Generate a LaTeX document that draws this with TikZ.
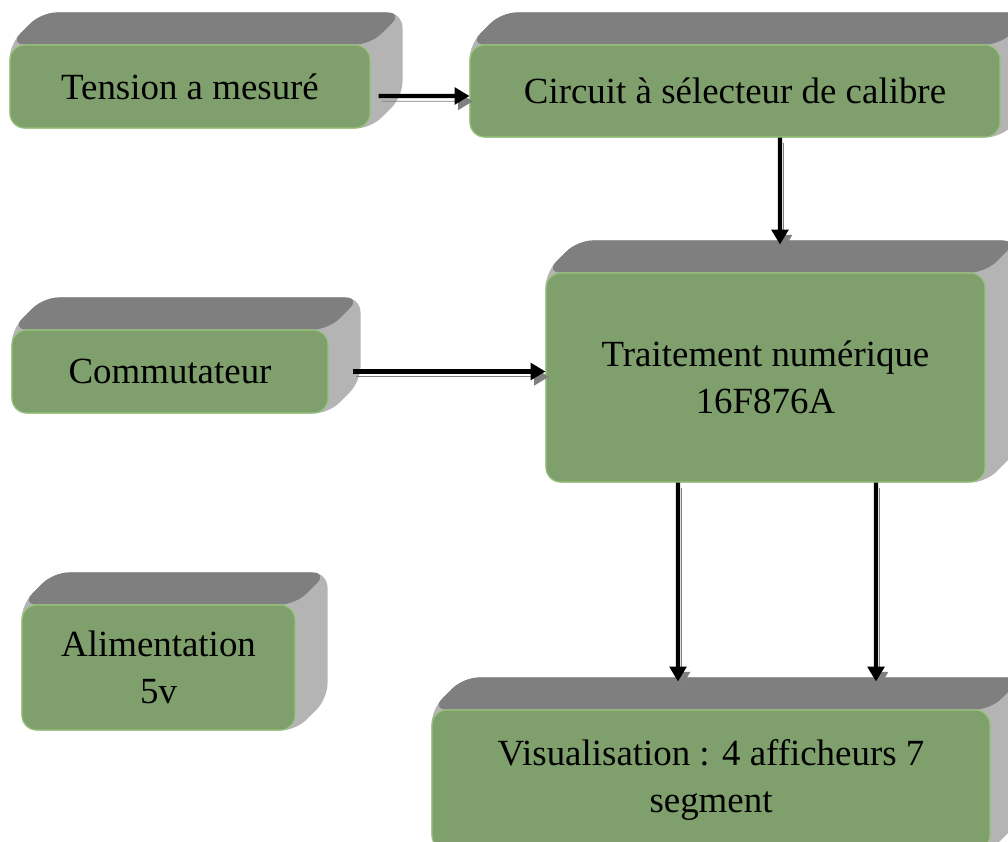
\documentclass[tikz,border=0pt]{standalone}
\usepackage{fontspec}
\setmainfont{Liberation Serif}
\usetikzlibrary{positioning,arrows.meta,calc,backgrounds}

\definecolor{facegreen}{RGB}{127,160,108}
\definecolor{edgegreen}{RGB}{146,196,116}
\definecolor{topgray}{RGB}{127,127,127}
\definecolor{sidegray}{RGB}{180,180,180}
\definecolor{shadowgray}{RGB}{128,128,128}

% relief derriere un bloc (dessus sombre, flanc clair)
\newcommand{\relief}[1]{%
  \begin{pgfonlayer}{background}
    \fill[sidegray, rounded corners=0.3cm]
      (#1.south west) -- (#1.north west) -- ($(#1.north west)+(0.64,0.64)$)
      -- ($(#1.north east)+(0.64,0.64)$) -- ($(#1.south east)+(0.64,0.64)$)
      -- (#1.south east) -- cycle;
    \fill[topgray, rounded corners=0.3cm]
      (#1.north west) -- ($(#1.north west)+(0.64,0.64)$)
      -- ($(#1.north east)+(0.64,0.64)$) -- (#1.north east) -- cycle;
  \end{pgfonlayer}}

\begin{document}
\begin{tikzpicture}[
    font=\fontsize{21}{27}\selectfont,
    bloc/.style={
        draw=edgegreen,
        line width=0.6pt,
        fill=facegreen,
        rounded corners=0.3cm,
        align=center,
        inner sep=0pt
    },
    arrow/.style={
        -{Triangle[length=8.5pt,width=9.5pt]},
        line width=2.3pt,
        preaction={draw=shadowgray, transform canvas={shift={(2pt,-3pt)}}}
    }
]
\useasboundingbox (0,0) rectangle (20.16,-16.82);

\node[bloc, minimum width=7.2cm, minimum height=1.66cm] (tension) at (3.8,-1.73) {Tension a mesuré};
\node[bloc, minimum width=10.6cm, minimum height=1.84cm] (calibre) at (14.7,-1.82) {Circuit à sélecteur de calibre};
\node[bloc, minimum width=8.78cm, minimum height=4.18cm] (traitement) at (15.31,-7.55) {Traitement numérique\\16F876A};
\node[bloc, minimum width=6.32cm, minimum height=1.66cm] (commut) at (3.4,-7.43) {Commutateur};
\node[bloc, minimum width=5.46cm, minimum height=2.5cm] (alim) at (3.17,-13.35) {Alimentation\\5v};
\node[bloc, minimum width=11.16cm, minimum height=2.8cm] (visu) at (14.22,-15.6) {Visualisation : 4 afficheurs 7\\segment};

\foreach \b in {tension,calibre,traitement,commut,alim,visu}
    \relief{\b};

% entrees dans la face du dessus
\coordinate (trait-in) at ([xshift=0.29cm,yshift=0.56cm]traitement.north);
\coordinate (visu-in1) at ([xshift=-0.66cm,yshift=0.56cm]visu.north);
\coordinate (visu-in2) at ([xshift=3.3cm,yshift=0.56cm]visu.north);

\draw[arrow] ([shift={(0.16,-0.19)}]tension.east) -- ([yshift=-0.1cm]calibre.west);
\draw[arrow] ([xshift=0.9cm]calibre.south) -- (trait-in);
\draw[arrow] ([xshift=0.48cm]commut.east) -- (commut.east -| traitement.west);
\draw[arrow] ([xshift=-1.75cm]traitement.south) -- (visu-in1);
\draw[arrow] ([xshift=2.21cm]traitement.south) -- (visu-in2);

\end{tikzpicture}
\end{document}
